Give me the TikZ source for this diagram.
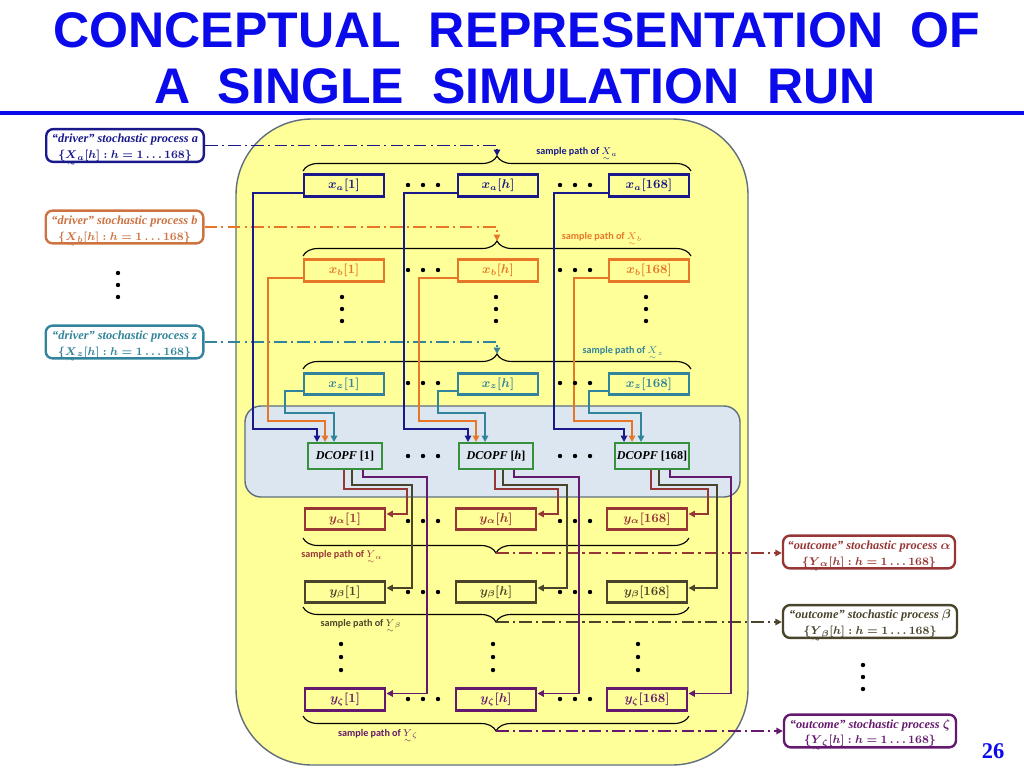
\documentclass[tikz,border=0pt]{standalone}
\usepackage{amsmath}
\usepackage{fontspec}
\setmainfont{Liberation Serif}
\newfontfamily\ttlfont{Liberation Sans}
\newfontfamily\calfont{Carlito}
\usetikzlibrary{arrows.meta,decorations.pathreplacing,calc}
\definecolor{ctitle}{RGB}{10,10,235}
\definecolor{cA}{RGB}{25,25,140}
\definecolor{cO}{RGB}{232,118,40}
\definecolor{cOd}{RGB}{205,115,65}
\definecolor{cT}{RGB}{49,132,155}
\definecolor{cR}{RGB}{150,55,53}
\definecolor{cL}{RGB}{74,69,42}
\definecolor{cP}{RGB}{100,25,110}
\definecolor{cG}{RGB}{55,145,60}
\definecolor{yfill}{RGB}{255,255,153}
\definecolor{bfill}{RGB}{220,230,241}
\definecolor{rgnb}{RGB}{95,110,125}
\newcommand{\utld}[1]{\smash[b]{\underset{\scriptscriptstyle\sim}{#1}}}
\newcommand{\setl}[2]{{\fontsize{8}{11}\selectfont\thickmuskip=4.5mu\medmuskip=3mu$\{\utld{#1}_{#2}[h] : h = 1 \ldots 168\}$}}
\begin{document}
\begin{tikzpicture}[x=0.25mm,y=-0.25mm,
  ttl/.style={anchor=base, text=ctitle, font=\ttlfont\bfseries\fontsize{35.6}{40}\selectfont, inner sep=0pt},
  drv/.style={draw, line width=1.7pt, rounded corners=1.75mm, fill=white, minimum width=39.4mm, minimum height=8.2mm, align=center, inner sep=0pt, font=\fontsize{8.8}{11.2}\selectfont\bfseries\itshape\boldmath},
  xbox/.style={draw, line width=2.1pt, fill=yfill, minimum width=20mm, minimum height=5.4mm, inner sep=0pt, font=\fontsize{9.2}{10}\selectfont\boldmath},
  dcbox/.style={draw=cG, line width=1.4pt, fill=bfill, minimum width=18.5mm, minimum height=6.5mm, inner sep=0pt, font=\fontsize{8.6}{10}\selectfont\bfseries},
  spl/.style={inner sep=0pt, font=\calfont\bfseries\fontsize{7.2}{8}\selectfont},
  ln/.style={line width=1.4pt},
  arr/.style={-{Triangle[length=4.5pt,width=4.5pt]}},
  dd/.style={line width=1.4pt, dash pattern=on 9pt off 3pt on 1.5pt off 3pt},
  brc/.style={line width=0.8pt, black, decorate, decoration={brace, amplitude=3.75mm}},
  dot/.style={fill=black}
]
\useasboundingbox (0,0) rectangle (1024,768);
% title
\node[ttl] (t1) at (517,47) {CONCEPTUAL\ \ REPRESENTATION\ \ OF};
\node[ttl] (t2) at (515,103) {A\ \ SINGLE\ \ SIMULATION\ \ RUN};
\draw[ctitle, line width=2.2pt] (0,113) -- (1024,113);
% regions
\draw[fill=yfill, draw=rgnb, line width=1pt, rounded corners=19mm] (236,119) rectangle (748,765);
\draw[fill=bfill, draw=rgnb, line width=1pt, rounded corners=4mm] (245,406) rectangle (740,497);
% driver boxes
\node[drv, draw=cA, text=cA] (da) at (125,145.5) {\rule{0pt}{9.5pt}“driver” stochastic process a\\ \setl{X}{a}};
\node[drv, draw=cOd, text=cOd] (db) at (124.5,227) {\rule{0pt}{9.5pt}“driver” stochastic process b\\ \setl{X}{b}};
\node[drv, draw=cT, text=cT] (dz) at (124.5,342) {\rule{0pt}{9.5pt}“driver” stochastic process z\\ \setl{X}{z}};
% outcome boxes
\node[drv, draw=cR, text=cR, minimum width=43mm] (oa) at (869,552) {\rule{0pt}{9.5pt}“outcome” stochastic process $\alpha$\\ \setl{Y}{\alpha}};
\node[drv, draw=cL, text=cL, minimum width=43.5mm] (ob) at (870,621.5) {\rule{0pt}{9.5pt}“outcome” stochastic process $\beta$\\ \setl{Y}{\beta}};
\node[drv, draw=cP, text=cP, minimum width=43mm] (oz) at (870,731) {\rule{0pt}{9.5pt}“outcome” stochastic process $\zeta$\\ \setl{Y}{\zeta}};
% x boxes
\node[xbox, draw=cA, text=cA] (xa1) at (344,185.5) {$x_a[1]$};
\node[xbox, draw=cA, text=cA] (xa2) at (498,185.5) {$x_a[h]$};
\node[xbox, draw=cA, text=cA] (xa3) at (649,185.5) {$x_a[168]$};
\node[xbox, draw=cO, text=cO] (xb1) at (344,270.5) {$x_b[1]$};
\node[xbox, draw=cO, text=cO] (xb2) at (498,270.5) {$x_b[h]$};
\node[xbox, draw=cO, text=cO] (xb3) at (649,270.5) {$x_b[168]$};
\node[xbox, draw=cT, text=cT] (xz1) at (344,384) {$x_z[1]$};
\node[xbox, draw=cT, text=cT] (xz2) at (498,384) {$x_z[h]$};
\node[xbox, draw=cT, text=cT] (xz3) at (649,384) {$x_z[168]$};
% DCOPF
\node[dcbox] (dc1) at (345,456) {\textit{DCOPF} [1]};
\node[dcbox] (dc2) at (496,456) {\textit{DCOPF} [\textit{h}]};
\node[dcbox] (dc3) at (652,456) {\textit{DCOPF} [168]};
% y boxes
\node[xbox, draw=cR, text=cR] (ya1) at (345,519) {$y_\alpha[1]$};
\node[xbox, draw=cR, text=cR] (ya2) at (496,519) {$y_\alpha[h]$};
\node[xbox, draw=cR, text=cR] (ya3) at (647,519) {$y_\alpha[168]$};
\node[xbox, draw=cL, text=cL] (yb1) at (345,592) {$y_\beta[1]$};
\node[xbox, draw=cL, text=cL] (yb2) at (496,592) {$y_\beta[h]$};
\node[xbox, draw=cL, text=cL] (yb3) at (647,592) {$y_\beta[168]$};
\node[xbox, draw=cP, text=cP] (yz1) at (345,699.5) {$y_\zeta[1]$};
\node[xbox, draw=cP, text=cP] (yz2) at (496,699.5) {$y_\zeta[h]$};
\node[xbox, draw=cP, text=cP] (yz3) at (647,699.5) {$y_\zeta[168]$};
% braces
\draw[brc] (303,171) -- (691,171);
\draw[brc] (303,256) -- (691,256);
\draw[brc] (303,369) -- (691,369);
\draw[brc] (689,538) -- (303,538);
\draw[brc] (689,607) -- (303,607);
\draw[brc] (689,716) -- (303,716);
\coordinate (ta) at (497,156);
\coordinate (tb) at (497,241);
\coordinate (tz) at (497,354);
\coordinate (ba) at (496,553);
\coordinate (bb) at (496,622);
\coordinate (bz) at (496,731);
% sample path labels
\node[spl, text=cA] (lpa) at (577,152) {sample path of $\utld{X}_a$};
\node[spl, text=cO] (lpb) at (602,237) {sample path of $\utld{X}_b$};
\node[spl, text=cT] (lpz) at (623,351) {sample path of $\utld{X}_z$};
\node[spl, text=cR] (lya) at (342,555) {sample path of $\utld{Y}_\alpha$};
\node[spl, text=cL] (lyb) at (361,624) {sample path of $\utld{Y}_\beta$};
\node[spl, text=cP] (lyz) at (378,734) {sample path of $\utld{Y}_\zeta$};
% dash-dot connectors
\draw[dd, cA, arr] (da.east) -| (ta);
\draw[dd, cO, arr] (db.east) -| (tb);
\draw[dd, cT, arr] (dz.east) -| (tz);
\draw[dd, cR, arr] (ba) -- (ba -| oa.west);
\draw[dd, cL, arr] (bb) -- (bb -| ob.west);
\draw[dd, cP, arr] (bz) -- (bz -| oz.west);
% inputs to DCOPF
\draw[ln, cA, arr] ($(xa1.south west)+(0,-5)$) -| (253,429) -| ($(dc1.north west)+(10,0)$);
\draw[ln, cA, arr] ($(xa2.south west)+(0,-5)$) -| (404,429) -| ($(dc2.north west)+(10,0)$);
\draw[ln, cA, arr] ($(xa3.south west)+(0,-5)$) -| (554,429) -| ($(dc3.north west)+(10,0)$);
\draw[ln, cO, arr] ($(xb1.south west)+(0,-5)$) -| (268,421) -| ($(dc1.north west)+(18,0)$);
\draw[ln, cO, arr] ($(xb2.south west)+(0,-5)$) -| (419,421) -| ($(dc2.north west)+(18,0)$);
\draw[ln, cO, arr] ($(xb3.south west)+(0,-5)$) -| (574,421) -| ($(dc3.north west)+(18,0)$);
\draw[ln, cT, arr] ($(xz1.south west)+(0,-5)$) -| (285,413) -| ($(dc1.north west)+(27,0)$);
\draw[ln, cT, arr] ($(xz2.south west)+(0,-5)$) -| (438,413) -| ($(dc2.north west)+(27,0)$);
\draw[ln, cT, arr] ($(xz3.south west)+(0,-5)$) -| (589,413) -| ($(dc3.north west)+(27,0)$);
% outputs from DCOPF
\draw[ln, cR, arr] ($(dc1.south west)+(37,0)$) |- (407,489) |- ($(ya1.east)+(0,-5)$);
\draw[ln, cR, arr] ($(dc2.south west)+(37,0)$) |- (558,489) |- ($(ya2.east)+(0,-5)$);
\draw[ln, cR, arr] ($(dc3.south west)+(37,0)$) |- (708,489) |- ($(ya3.east)+(0,-5)$);
\draw[ln, cL, arr] ($(dc1.south west)+(45,0)$) |- (412,485) |- ($(yb1.east)+(0,-4)$);
\draw[ln, cL, arr] ($(dc2.south west)+(45,0)$) |- (567,485) |- ($(yb2.east)+(0,-4)$);
\draw[ln, cL, arr] ($(dc3.south west)+(45,0)$) |- (717,485) |- ($(yb3.east)+(0,-4)$);
\draw[ln, cP, arr] ($(dc1.south west)+(56,0)$) |- (427,477) |- ($(yz1.east)+(0,-6)$);
\draw[ln, cP, arr] ($(dc2.south west)+(56,0)$) |- (579,477) |- ($(yz2.east)+(0,-6)$);
\draw[ln, cP, arr] ($(dc3.south west)+(56,0)$) |- (731,477) |- ($(yz3.east)+(0,-6)$);
% dots
\foreach \y in {185,270,383,456,521,592,699} {
  \foreach \x in {408,423,438,560,575,590} { \fill[dot] (\x,\y) circle (0.55mm); }
}
\foreach \x in {342,496,646} { \foreach \y in {297,309,321} { \fill[dot] (\x,\y) circle (0.55mm); } }
\foreach \x in {341,493,638} { \foreach \y in {644,657,670} { \fill[dot] (\x,\y) circle (0.55mm); } }
\foreach \y in {273,285,297} { \fill[dot] (118,\y) circle (0.55mm); }
\foreach \y in {665,677,689} { \fill[dot] (863,\y) circle (0.55mm); }
% page number
\node[anchor=base, text=ctitle, font=\bfseries\fontsize{16}{16}\selectfont, inner sep=0pt] (pg) at (993,758) {26};
\end{tikzpicture}
\end{document}
